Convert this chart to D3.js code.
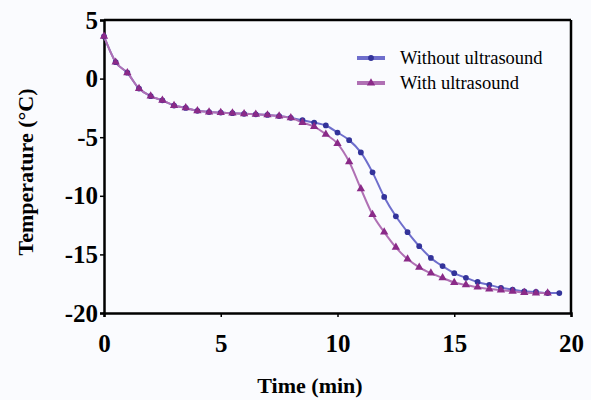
<!DOCTYPE html>
<html><head><meta charset="utf-8">
<script src="https://cdn.jsdelivr.net/npm/d3@7"></script>
<style>body{margin:0;background:#fafbfe;} svg{display:block;}</style>
</head><body>
<svg id="c" width="591" height="400"></svg>
<script>
const seriesNames = ["Without ultrasound", "With ultrasound"];
const timeWithout = d3.range(0, 19.51, 0.5);
const tempWithout = [3.6,1.4,0.5,-0.85,-1.5,-1.85,-2.3,-2.5,-2.75,-2.85,-2.9,-2.95,-3.0,-3.05,-3.1,-3.2,-3.35,-3.55,-3.75,-4.0,-4.6,-5.25,-6.3,-8.0,-10.1,-11.75,-13.1,-14.3,-15.3,-16.0,-16.6,-17.0,-17.35,-17.6,-17.85,-18.0,-18.15,-18.2,-18.3,-18.3];
const timeWith = d3.range(0, 19.01, 0.5);
const tempWith = [3.6,1.4,0.5,-0.85,-1.5,-1.85,-2.3,-2.5,-2.75,-2.85,-2.9,-2.95,-3.0,-3.05,-3.1,-3.2,-3.35,-3.75,-4.1,-4.75,-5.55,-7.1,-9.4,-11.6,-13.1,-14.4,-15.4,-16.1,-16.6,-17.0,-17.4,-17.6,-17.8,-17.95,-18.05,-18.15,-18.25,-18.3,-18.3];
const xTicks = [0,5,10,15,20];
const yTicks = [5,0,-5,-10,-15,-20];

const svg = d3.select("#c");
const L=104, R=571, T=20, B=313;
const x = d3.scaleLinear().domain([0,20]).range([L,R]);
const y = d3.scaleLinear().domain([-20,5]).range([B,T]);
const font = "'Liberation Serif','Times New Roman',serif";

const lineColors = ["#6e6ecc","#b070b4"];
const markColors = ["#33339a","#8a2a88"];

svg.append("line").attr("x1",L).attr("x2",R).attr("y1",T).attr("y2",T).attr("stroke","#000").attr("stroke-width",2.5);
svg.append("line").attr("x1",R).attr("x2",R).attr("y1",T).attr("y2",B).attr("stroke","#000").attr("stroke-width",2.5);

const xAxis = svg.append("g").attr("transform",`translate(0,${B})`)
  .call(d3.axisBottom(x).tickValues(xTicks).tickSize(4).tickPadding(17).tickFormat(d3.format("d")));
const yAxis = svg.append("g").attr("transform",`translate(${L},0)`)
  .call(d3.axisLeft(y).tickValues(yTicks).tickSize(4).tickPadding(2).tickFormat(d=>d<0?"-"+Math.abs(d):d));
[xAxis,yAxis].forEach(a=>{
  a.select(".domain").attr("stroke","#000").attr("stroke-width",2.5);
  a.selectAll(".tick line").attr("stroke","#000").attr("stroke-width",1.5);
  a.selectAll("text").attr("font-family",font).attr("font-weight","bold").attr("font-size",25).attr("fill","#000");
});

const line = d3.line().curve(d3.curveMonotoneX);
const data = [
  timeWithout.map((t,i)=>[t,tempWithout[i]]),
  timeWith.map((t,i)=>[t,tempWith[i]])
];
data.forEach((d,k)=>{
  svg.append("path").attr("d",line(d.map(p=>[x(p[0]),y(p[1])])))
    .attr("fill","none").attr("stroke",lineColors[k]).attr("stroke-width",2);
});
const sym = [d3.symbol().type(d3.symbolCircle).size(26), d3.symbol().type(d3.symbolTriangle).size(30)];
data.forEach((d,k)=>{
  svg.append("g").selectAll("path").data(d).join("path")
    .attr("transform",p=>`translate(${x(p[0])},${y(p[1])})`)
    .attr("d",sym[k]()).attr("fill",markColors[k]);
});

const legY=[58,83];
seriesNames.forEach((n,k)=>{
  svg.append("line").attr("x1",357).attr("x2",385).attr("y1",legY[k]).attr("y2",legY[k]).attr("stroke",lineColors[k]).attr("stroke-width",4);
  svg.append("path").attr("transform",`translate(371,${legY[k]})`).attr("d",sym[k]()).attr("fill",markColors[k]);
  svg.append("text").attr("x",400).attr("y",legY[k]+6).text(n)
    .attr("font-family",font).attr("font-size",18.5).attr("fill","#000");
});

svg.append("text").attr("x",310).attr("y",393).attr("text-anchor","middle")
  .attr("font-family",font).attr("font-weight","bold").attr("font-size",22).text("Time (min)");
svg.append("text").attr("transform",`translate(33,172) rotate(-90)`).attr("text-anchor","middle")
  .attr("font-family",font).attr("font-weight","bold").attr("font-size",22).text("Temperature (°C)");
</script>
</body></html>
